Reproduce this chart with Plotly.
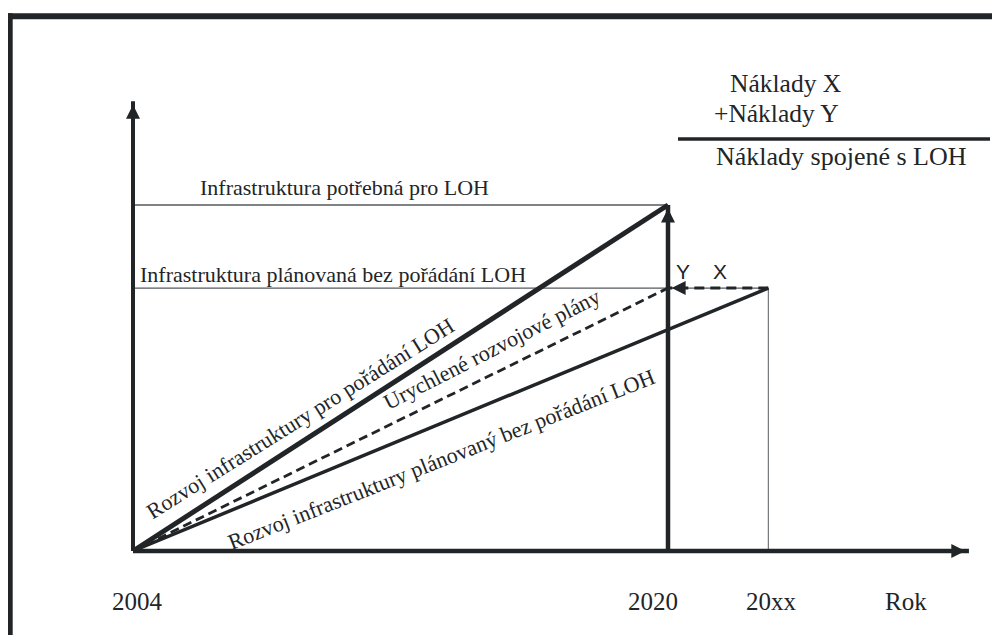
import plotly.graph_objects as go

# ---------------- data ----------------
years = [2004, 2020, 2023]            # 2004, 2020, "20xx"
year_labels = ["2004", "2020", "20xx"]
axis_label = "Rok"
axis_end_year = 2029
level_needed = 100                    # Infrastruktura potřebná pro LOH
level_planned = 76                    # Infrastruktura plánovaná bez pořádání LOH
axis_top = 130
series_names = [
    "Rozvoj infrastruktury pro pořádání LOH",
    "Urychlené rozvojové plány",
    "Rozvoj infrastruktury plánovaný bez pořádání LOH",
]
ref_labels = ["Infrastruktura potřebná pro LOH",
              "Infrastruktura plánovaná bez pořádání LOH"]
cost_labels = ["Náklady X", "+Náklady Y", "Náklady spojené s LOH"]

# ---------------- layout geometry ----------------
OFF = 8                      # page body margin of the browser
W, H = 1000 - OFF, 635 - OFF
PX_PER_YEAR = 33.4375
PX_PER_UNIT = 3.46
ORIGIN_PX = (133 - OFF, 551 - OFF)
x0 = years[0] - ORIGIN_PX[0] / PX_PER_YEAR
x1 = x0 + W / PX_PER_YEAR
y1 = ORIGIN_PX[1] / PX_PER_UNIT
y0 = -(H - ORIGIN_PX[1]) / PX_PER_UNIT


def X(px):
    return x0 + (px - OFF) / PX_PER_YEAR


def Y(py):
    return (ORIGIN_PX[1] - (py - OFF)) / PX_PER_UNIT


def PX(px):
    return (px - OFF) / W


def PY(py):
    return 1 - (py - OFF) / H


INK = "#222527"
SERIF = "Liberation Serif, Times New Roman, serif"
SANS = "Liberation Sans, Arial, sans-serif"

fig = go.Figure()


def seg(xs, ys, width, color=INK, dash="solid"):
    fig.add_trace(go.Scatter(x=xs, y=ys, mode="lines",
                             line=dict(color=color, width=width, dash=dash),
                             hoverinfo="skip", showlegend=False))


y_start = 0
# thin reference lines
seg([years[0], years[1]], [level_needed, level_needed], 1.3, "#555a5d")
seg([years[0], years[2]], [level_planned, level_planned], 1.3, "#555a5d")
seg([years[2], years[2]], [y_start, level_planned], 1.0, "#555a5d")
# axes
seg([years[0], axis_end_year], [y_start, y_start], 4.5)
seg([years[0], years[0]], [y_start, axis_top], 4)
# series
seg([years[0], years[2]], [y_start, level_planned], 3.5)
seg([years[0], years[1]], [y_start, level_planned], 2.8, dash="9px,5px")
seg([years[0], years[1]], [y_start, level_needed], 5)
# 2020 vertical and X gap
seg([years[1], years[1]], [y_start, level_needed], 4.5)
seg([years[2], years[1]], [level_planned, level_planned], 3, dash="10px,6px")

ann = []


def head(x, y, ax, ay):
    ann.append(dict(x=x, y=y, xref="x", yref="y", ax=ax, ay=ay,
                    showarrow=True, arrowhead=2, arrowsize=2.8, arrowwidth=1,
                    arrowcolor=INK, standoff=3.6, text=""))


head(years[0], axis_top, 0, 14)
head(axis_end_year, y_start, -14, 0)
head(years[1], level_needed, 0, 14)
head(years[1], level_planned, 14, 0)


def txt(text, px, py, size, font=SERIF, angle=0, xanchor="center", color=INK):
    ann.append(dict(x=X(px), y=Y(py), xref="x", yref="y", text=text,
                    showarrow=False, textangle=angle, xanchor=xanchor,
                    yanchor="middle", font=dict(family=font, size=size, color=color)))


# bottom labels
txt(year_labels[0], 137, 601, 25)
txt(year_labels[1], 653, 601, 25)
txt(year_labels[2], 771, 601, 25)
txt(axis_label, 906, 601, 25)
# reference line labels
txt(ref_labels[0], 198, 187, 22, xanchor="left")
txt(ref_labels[1], 138, 274, 22, xanchor="left")
# X / Y
txt("Y", 683, 271, 21, font=SANS)
txt("X", 720, 271, 21, font=SANS)
# cost formula
txt(cost_labels[0], 785, 83, 25.5)
txt(cost_labels[1], 776, 113, 25.5)
txt(cost_labels[2], 841, 156, 26)
# rotated series labels
txt(series_names[0], 300, 418, 22, angle=-32)
txt(series_names[1], 491, 349, 22, angle=-27)
txt(series_names[2], 441, 459, 22, angle=-21.5)

shapes = [
    # frame
    dict(type="rect", xref="paper", yref="paper", x0=PX(8), x1=1.01, y0=PY(19.3), y1=PY(13.3),
         fillcolor=INK, line=dict(width=0), layer="above"),
    dict(type="rect", xref="paper", yref="paper", x0=PX(7.5), x1=PX(12.7), y0=-0.01, y1=PY(13.3),
         fillcolor=INK, line=dict(width=0), layer="above"),
    # fraction bar
    dict(type="line", xref="paper", yref="paper", x0=PX(678), x1=PX(990), y0=PY(139), y1=PY(139),
         line=dict(color=INK, width=3.5)),
]

fig.update_layout(
    width=W, height=H, autosize=False,
    margin=dict(l=0, r=0, t=0, b=0, pad=0),
    paper_bgcolor="white", plot_bgcolor="white",
    xaxis=dict(range=[x0, x1], visible=False, fixedrange=True),
    yaxis=dict(range=[y0, y1], visible=False, fixedrange=True),
    annotations=ann, shapes=shapes, showlegend=False,
)

fig.write_html("out.html")
